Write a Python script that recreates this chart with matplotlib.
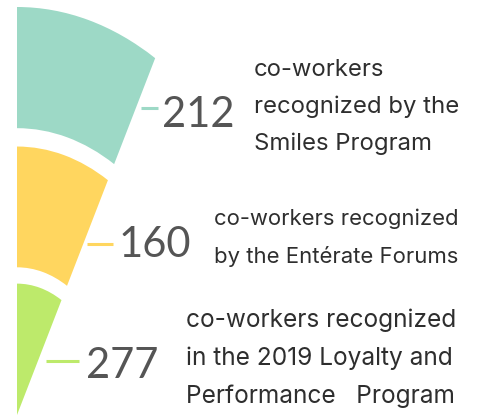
import matplotlib
matplotlib.use("Agg")
import matplotlib.pyplot as plt
from matplotlib.patches import Wedge

# data
values = [212, 160, 277]
labels = ["co-workers\nrecognized by the\nSmiles Program",
          "co-workers recognized\nby the Entérate Forums",
          "co-workers recognized\nin the 2019 Loyalty and\nPerformance   Program"]
colors = ["#9dd9c6", "#ffd65f", "#bdea6b"]

# fan layout (unit radii, stretched ellipse)
outer = [1.0, 0.658, 0.322]
inner = [0.703, 0.362, 0.0]
span = 29  # degrees from vertical

# pixel layout for annotations
line_x = [(141, 158), (87, 113), (46, 79)]
line_y = [108, 244, 361]
num_x = [162, 119, 86]
num_base = [127, 257, 378]
txt_x = [254, 214, 186]
txt_base = [150, 263, 403]  # baseline of last line

W, H = 499, 415
fig = plt.figure(figsize=(W / 100, H / 100), dpi=100)

# fan axes: center of the fan at pixel (17, 415)
ax = fig.add_axes([0, 0, 1, 1])
sx, sy = 285.0, 408.0
ax.set_xlim(-17 / sx, (W - 17) / sx)
ax.set_ylim(0, H / sy)
ax.axis("off")
for ro, ri, c in zip(outer, inner, colors):
    ax.add_patch(Wedge((0, 0), ro, 90 - span, 90, width=ro - ri,
                       facecolor=c, edgecolor="none"))

# overlay in pixel coords for text
ov = fig.add_axes([0, 0, 1, 1])
ov.set_xlim(0, W)
ov.set_ylim(H, 0)
ov.axis("off")
ov.patch.set_alpha(0)

sizes = [17.2, 15.9, 17.6]
for i, v in enumerate(values):
    ov.plot(line_x[i], [line_y[i], line_y[i]], color=colors[i], lw=2.2,
            solid_capstyle="butt")
    ov.text(num_x[i], num_base[i], str(v), fontsize=30, color="#555555",
            family="Lato", va="baseline", ha="left")
    ov.text(txt_x[i], txt_base[i], labels[i], fontsize=sizes[i], color="#2e2e2e",
            family="Inter", va="baseline", ha="left",
            linespacing=1.9 * 16.5 / sizes[i])

fig.savefig("out.png", dpi=100, facecolor="white")
